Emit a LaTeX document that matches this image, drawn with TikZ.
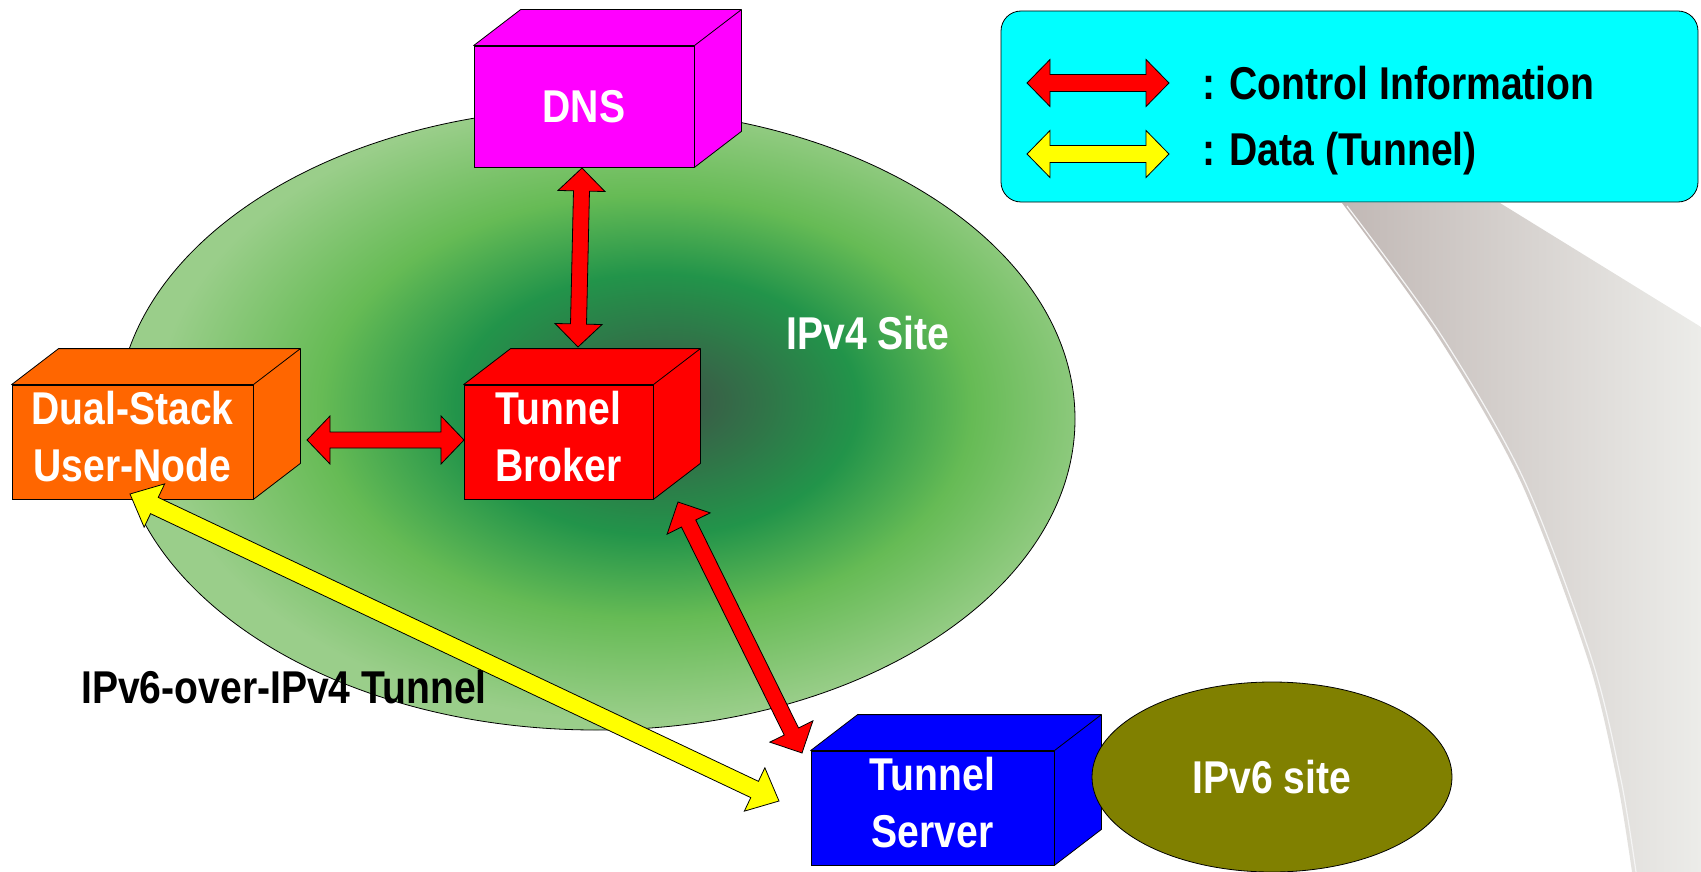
\documentclass[tikz,border=0pt]{standalone}
\usepackage{fontspec}
\setmainfont{Liberation Sans}
\usepackage{graphicx}
\usetikzlibrary{calc,shapes.geometric}
\definecolor{cOrange}{RGB}{255,102,0}
\definecolor{cRed}{RGB}{255,0,0}
\definecolor{cMag}{RGB}{255,0,255}
\definecolor{cBlue}{RGB}{0,0,255}
\definecolor{cOlive}{RGB}{128,128,0}
\definecolor{cCyan}{RGB}{0,255,255}
\definecolor{cYel}{RGB}{255,255,0}
\definecolor{swA}{RGB}{193,184,181}
\definecolor{swB}{RGB}{222,217,212}
\definecolor{swC}{RGB}{236,236,233}
\definecolor{gA}{RGB}{60,86,70}
\definecolor{gB}{RGB}{50,112,72}
\definecolor{gC}{RGB}{34,148,74}
\definecolor{gD}{RGB}{102,187,85}
\definecolor{gE}{RGB}{154,206,138}
\pgfdeclareradialshading{ipvfour}{\pgfpoint{4bp}{1.5bp}}{color(0bp)=(gA); color(4.5bp)=(gB); color(10.5bp)=(gC); color(17bp)=(gD); color(25bp)=(gE); color(50bp)=(gE)}
\newcommand\sq[1]{\scalebox{0.85}[1]{#1}}
\newcommand\blockarrow[6]{%
  \draw[#1] (#2) -- ($(#2)!#4!(#3)!#5!90:(#3)$) -- ($(#2)!#4!(#3)!#6!90:(#3)$)
    -- ($(#3)!#4!(#2)!#6!-90:(#2)$) -- ($(#3)!#4!(#2)!#5!-90:(#2)$) -- (#3)
    -- ($(#3)!#4!(#2)!#5!90:(#2)$) -- ($(#3)!#4!(#2)!#6!90:(#2)$)
    -- ($(#2)!#4!(#3)!#6!-90:(#3)$) -- ($(#2)!#4!(#3)!#5!-90:(#3)$) -- cycle;}
\newcommand\cubefaces[2]{%
  \filldraw[fill=#2, draw=black, line width=0.8pt, line join=round]
    (#1.north west) -- ++(47,-36) -- ($(#1.north east)+(47,-36)$)
    -- ($(#1.south east)+(47,-36)$) -- (#1.south east) -- (#1.north east) -- cycle;
  \draw[line width=0.8pt] (#1.north east) -- ++(47,-36);}
\begin{document}
\begin{tikzpicture}[x=1pt,y=-1pt,
  bigfont/.style={font=\fontsize{46}{57}\selectfont\bfseries},
  cubeface/.style={draw=black, line width=0.8pt, rectangle, inner sep=0pt, text=white, bigfont, align=center},
  whitelbl/.style={text=white, bigfont, inner sep=0pt},
  blacklbl/.style={text=black, bigfont, inner sep=0pt},
  redarrow/.style={fill=cRed, draw=black, line width=0.8pt, line join=miter},
  yelarrow/.style={fill=cYel, draw=black, line width=0.8pt, line join=miter}]
\useasboundingbox (0,0) rectangle (1701,872);

% page-curl swoosh
\shade[left color=swA, middle color=swB, right color=swC]
  (1342,203) -- (1500,203) -- (1701,327) -- (1701,872) -- (1632,872)
  -- plot[smooth] coordinates {(1632,872) (1617,780) (1588,660) (1520,480) (1437,335) (1342,203)} -- cycle;
\draw[white!92!gray, line width=1.2pt] plot[smooth] coordinates {(1636,872) (1621,780) (1592,660) (1524,480) (1441,335) (1347,206)};

% legend
\node[draw=black, line width=0.8pt, fill=cCyan, rounded corners=20pt, minimum width=697pt, minimum height=191pt, inner sep=0pt] (legend) at (1349.5,106.5) {};
\coordinate (la1) at (1027,83);
\coordinate (la2) at (1169,83);
\coordinate (lb1) at (1027,154);
\coordinate (lb2) at (1169,154);
\blockarrow{redarrow}{la1}{la2}{23pt}{23.5pt}{8.5pt}
\blockarrow{yelarrow}{lb1}{lb2}{23pt}{23.5pt}{8.5pt}
\node[blacklbl, anchor=west] (ctl) at (1202,83) {\sq{: Control Information}};
\node[blacklbl, anchor=west] (dat) at (1202,154) {\sq{: Data (Tunnel)}};

% IPv4 site
\node[ellipse, draw=black, line width=0.8pt, shade, shading=ipvfour, minimum width=958pt, minimum height=622pt, inner sep=0pt] (ipv4) at (596,419) {};
\node[whitelbl] (v4lbl) at (868,333) {\sq{IPv4 Site}};

% boxes
\node[cubeface, fill=cOrange, minimum width=241pt, minimum height=108pt] (dual) at (132.5,442)
  {\sq{\begin{tabular}{@{}c@{}}Dual-Stack\\User-Node\end{tabular}}};
\cubefaces{dual}{cOrange}
\node[cubeface, fill=cRed, minimum width=189pt, minimum height=108pt] (broker) at (558.5,442)
  {\sq{\begin{tabular}{@{}c@{}}Tunnel\\Broker\end{tabular}}};
\cubefaces{broker}{cRed}
\node[cubeface, fill=cMag, minimum width=220pt, minimum height=121pt] (dns) at (584,106.5)
  {\sq{DNS}};
\cubefaces{dns}{cMag}

\node[blacklbl, anchor=west] (tunlbl) at (81,687) {\sq{IPv6-over-IPv4 Tunnel}};

\node[cubeface, fill=cBlue, minimum width=243pt, minimum height=108pt] (server) at (932.5,808)
  {\sq{\begin{tabular}{@{}c@{}}Tunnel\\Server\end{tabular}}};
\cubefaces{server}{cBlue}
\node[ellipse, draw=black, line width=0.8pt, fill=cOlive, minimum width=360pt, minimum height=190pt, inner sep=0pt, text=white, bigfont] (v6) at (1272,777) {\sq{IPv6 site}};

% connectors
\coordinate (dnsTip) at (582,168);
\coordinate (brkTop) at (578,347);
\coordinate (dualTip) at (307,440);
\coordinate (brkLeft) at (464,440);
\coordinate (brkLow) at (678,502);
\coordinate (srvTip) at (802,753);
\coordinate (dualLow) at (130,494);
\coordinate (srvLeft) at (779,801);
\blockarrow{redarrow}{dnsTip}{brkTop}{23pt}{23.5pt}{8pt}
\blockarrow{redarrow}{dualTip}{brkLeft}{23pt}{24pt}{8pt}
\blockarrow{redarrow}{brkLow}{srvTip}{24pt}{24pt}{8pt}
\blockarrow{yelarrow}{dualLow}{srvLeft}{27pt}{24pt}{9pt}
\end{tikzpicture}
\end{document}
